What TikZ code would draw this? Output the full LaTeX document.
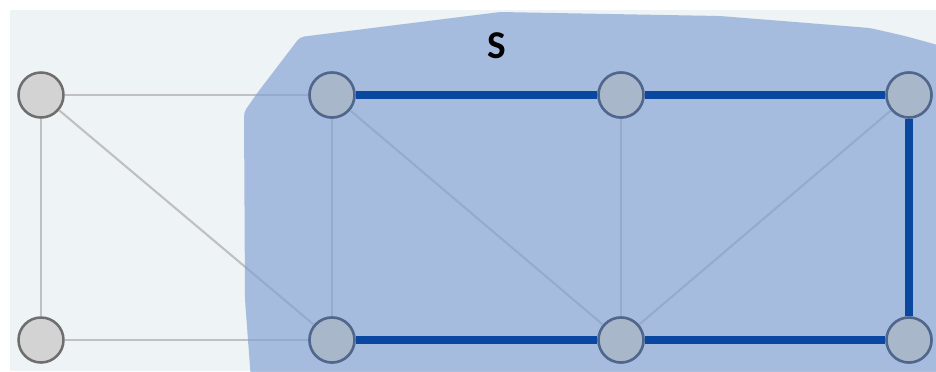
\documentclass[tikz,border=0pt]{standalone}
\usepackage{fontspec}
\setsansfont{Carlito}
\usepackage{xcolor}
\usetikzlibrary{positioning}
\definecolor{fond}{HTML}{EEF3F6}
\definecolor{zone}{HTML}{7FA0D3}
\definecolor{arete}{HTML}{C0C0C0}
\definecolor{coupe}{HTML}{0A47A0}
\definecolor{gris}{HTML}{D3D3D3}
\definecolor{bord}{HTML}{6E6E6E}
\definecolor{grisbleu}{HTML}{A9B7CB}
\definecolor{bordbleu}{HTML}{50668A}
\begin{document}
\begin{tikzpicture}[x=0.025cm,y=-0.025cm,
    sommet/.style={circle,draw=bord,fill=gris,line width=1.8pt,minimum size=32pt,inner sep=0pt},
    sommetS/.style={sommet,draw=bordbleu,fill=grisbleu},
    fine/.style={draw=arete,line width=1.5pt},
    epaisse/.style={draw=coupe,line width=5.6pt}]
        % Fond
        \useasboundingbox (0,0) rectangle (936,371);
        \fill[white] (0,0) rectangle (936,371);
        \fill[fond] (10,10) rectangle (936,371);
        % Sommets
        \node[sommet] (a1) at (41,95) {};
        \node[sommet] (a2) at (41,340) {};
        \node[sommetS] (b1) at (332,95) {};
        \node[sommetS] (b2) at (332,340) {};
        \node[sommetS] (c1) at (621,95) {};
        \node[sommetS] (c2) at (621,340) {};
        \node[sommetS] (d1) at (909,95) {};
        \node[sommetS] (d2) at (909,340) {};
        % Aretes fines
        \draw[fine] (a1) -- (b1);
        \draw[fine] (a1) -- (a2);
        \draw[fine] (a1) -- (b2);
        \draw[fine] (a2) -- (b2);
        \draw[fine] (b1) -- (b2);
        \draw[fine] (b1) -- (c2);
        \draw[fine] (c1) -- (c2);
        \draw[fine] (d1) -- (c2);
        % Ensemble S
        \fill[zone,opacity=0.65,rounded corners=3pt] (251,380) -- (245,300) -- (244,112)
            -- (258,92) -- (300,37) -- (500,12) -- (720,16) -- (870,28) -- (905,36)
            -- (945,47) -- (945,380) -- cycle;
        \node[font=\sffamily\bfseries\fontsize{28}{30}\selectfont] (s) at (497,46) {S};
        % Sommets par-dessus
        \foreach \n in {b1,b2,c1,c2,d1,d2}
            \node[sommetS] at (\n) {};
        % Aretes de la coupe
        \draw[epaisse] (b1) -- (c1);
        \draw[epaisse] (c1) -- (d1);
        \draw[epaisse] (d1) -- (d2);
        \draw[epaisse] (b2) -- (c2);
        \draw[epaisse] (c2) -- (d2);
\end{tikzpicture}
\end{document}
